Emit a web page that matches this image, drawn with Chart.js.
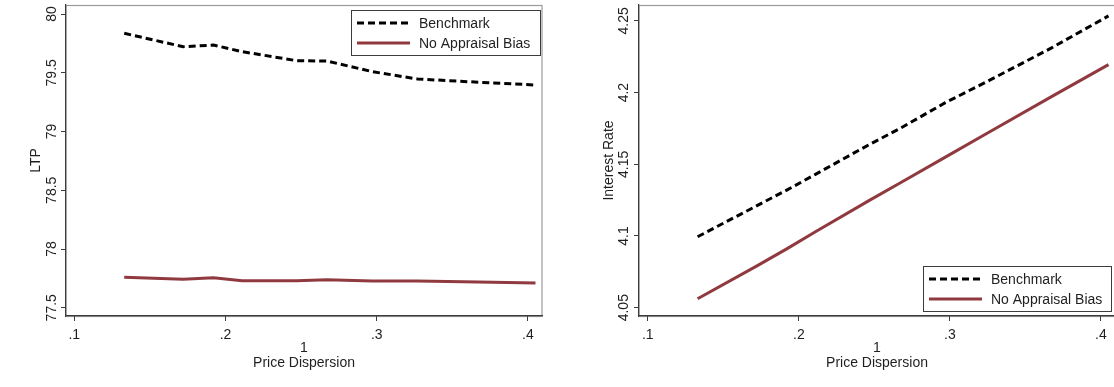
<!DOCTYPE html>
<html>
<head>
<meta charset="utf-8">
<title>LTP and Interest Rate by Price Dispersion</title>
<script src="https://cdn.jsdelivr.net/npm/chart.js@4"></script>
<style>
  html, body { margin: 0; padding: 0; background: #fff; overflow: hidden; }
  #wrap { position: relative; width: 1114px; height: 387px; }
  canvas { position: absolute; top: 0; }
  #ltpChart { left: 0; }
  #rateChart { left: 560px; }
</style>
</head>
<body>
<div id="wrap">
  <canvas id="ltpChart" width="560" height="387"></canvas>
  <canvas id="rateChart" width="560" height="387"></canvas>
</div>
<script>
// Price dispersion grid shared by both panels
const dispersion = [0.133, 0.172, 0.192, 0.211, 0.247, 0.267, 0.297, 0.327, 0.367, 0.405];

// LTP panel
const ltpBenchmark = [79.836, 79.722, 79.736, 79.68, 79.603, 79.60, 79.51, 79.447, 79.42, 79.396];
const ltpNoBias = [77.759, 77.742, 77.755, 77.73, 77.73, 77.738, 77.727, 77.727, 77.719, 77.71];

// Interest rate panel
const rateBenchmark = [4.0995, 4.121, 4.132, 4.143, 4.164, 4.175, 4.193, 4.209, 4.231, 4.2535];
const rateNoBias = [4.0562, 4.079, 4.091, 4.103, 4.125, 4.137, 4.155, 4.173, 4.197, 4.2195];

const xTicks = [0.1, 0.2, 0.3, 0.4];
const ltpTicks = [77.5, 78, 78.5, 79, 79.5, 80];
const rateTicks = [4.05, 4.1, 4.15, 4.2, 4.25];
const seriesNames = ['Benchmark', 'No Appraisal Bias'];

const FONT = '"Liberation Sans", Arial, sans-serif';
const TEXT = '#1f1f1f';
const AXIS = '#3c3c3c';
const MAROON = '#903a40';

// Light outline around the plot region, axes are drawn over it
const framePlugin = {
  id: 'frame',
  beforeDraw(chart) {
    const { ctx, chartArea: a } = chart;
    ctx.save();
    ctx.strokeStyle = '#9a9a9a';
    ctx.lineWidth = 1.2;
    ctx.strokeRect(a.left, a.top + 0.5, a.right - a.left, a.bottom - a.top);
    ctx.restore();
  }
};

// Boxed legend placed inside the plot region
const boxLegend = {
  id: 'boxLegend',
  afterDatasetsDraw(chart, args, opts) {
    const { ctx, chartArea: a } = chart;
    const x = a.right - opts.right - opts.width;
    const y = opts.corner === 'top' ? a.top + opts.offset : a.bottom - opts.offset - opts.height;
    ctx.save();
    ctx.fillStyle = '#fff';
    ctx.fillRect(x, y, opts.width, opts.height);
    ctx.strokeStyle = AXIS;
    ctx.lineWidth = 1;
    ctx.strokeRect(x + 0.5, y + 0.5, opts.width, opts.height);
    ctx.font = '14px ' + FONT;
    ctx.textBaseline = 'middle';
    chart.data.datasets.forEach((ds, i) => {
      const rowY = y + 13 + i * 20;
      ctx.beginPath();
      ctx.setLineDash(ds.borderDash || []);
      ctx.strokeStyle = ds.borderColor;
      ctx.lineWidth = ds.borderWidth;
      ctx.moveTo(x + 6, rowY);
      ctx.lineTo(x + 59, rowY);
      ctx.stroke();
      ctx.setLineDash([]);
      ctx.fillStyle = TEXT;
      ctx.fillText(ds.label, x + 68, rowY + 1);
    });
    ctx.restore();
  }
};

function datasets(bench, noBias) {
  return [{
    label: seriesNames[0],
    data: dispersion.map((d, i) => ({ x: d, y: bench[i] })),
    borderColor: '#000',
    borderWidth: 3,
    borderDash: [7, 4],
    pointRadius: 0,
    tension: 0
  }, {
    label: seriesNames[1],
    data: dispersion.map((d, i) => ({ x: d, y: noBias[i] })),
    borderColor: MAROON,
    borderWidth: 3,
    pointRadius: 0,
    tension: 0
  }];
}

function panelOptions(p) {
  return {
    responsive: false,
    animation: false,
    layout: { autoPadding: false, padding: { top: 5, right: p.padRight, bottom: 0, left: 0 } },
    plugins: {
      legend: { display: false },
      tooltip: { enabled: false },
      boxLegend: p.legend
    },
    scales: {
      x: {
        type: 'linear',
        min: p.xMin,
        max: p.xMax,
        afterBuildTicks: s => { s.ticks = xTicks.map(v => ({ value: v })); },
        afterFit: s => { s.height = 71; },
        grid: { drawOnChartArea: false, drawTicks: true, tickLength: 5, color: AXIS },
        border: { color: AXIS, width: 1.2 },
        ticks: {
          color: TEXT,
          font: { family: FONT, size: 14 },
          padding: 6,
          maxRotation: 0,
          callback: v => String(v).replace(/^0/, '')
        },
        title: {
          display: true,
          text: ['1', 'Price Dispersion'],
          color: TEXT,
          font: { family: FONT, size: 14, lineHeight: 1.1 },
          padding: { top: 0, bottom: 16 }
        }
      },
      y: {
        min: p.yMin,
        max: p.yMax,
        afterBuildTicks: s => { s.ticks = p.yTicks.map(v => ({ value: v })); },
        afterFit: s => { s.width = p.yWidth; },
        grid: { drawOnChartArea: false, drawTicks: true, tickLength: 5, color: AXIS },
        border: { color: AXIS, width: 1.2 },
        ticks: {
          color: TEXT,
          font: { family: FONT, size: 14 },
          padding: p.yLabelPad,
          minRotation: 90,
          maxRotation: 90,
          crossAlign: 'center',
          callback: v => String(v)
        },
        title: {
          display: true,
          text: p.yTitle,
          color: TEXT,
          font: { family: FONT, size: 14, lineHeight: 1.1 },
          padding: { top: p.yTitlePad, bottom: 0 }
        }
      }
    }
  };
}

new Chart(document.getElementById('ltpChart'), {
  type: 'line',
  data: { datasets: datasets(ltpBenchmark, ltpNoBias) },
  options: panelOptions({
    padRight: 18, xMin: 0.0945, xMax: 0.4093,
    yMin: 77.43, yMax: 80.077, yTicks: ltpTicks, yWidth: 66, yLabelPad: -5,
    yTitle: 'LTP', yTitlePad: 28,
    legend: { corner: 'top', right: 2, offset: 5, width: 189, height: 45 }
  }),
  plugins: [framePlugin, boxLegend]
});

new Chart(document.getElementById('rateChart'), {
  type: 'line',
  data: { datasets: datasets(rateBenchmark, rateNoBias) },
  options: panelOptions({
    padRight: 5, xMin: 0.0942, xMax: 0.4093,
    yMin: 4.0442, yMax: 4.2611, yTicks: rateTicks, yWidth: 79, yLabelPad: -4,
    yTitle: 'Interest Rate', yTitlePad: 41,
    legend: { corner: 'bottom', right: 4, offset: 5, width: 188, height: 45 }
  }),
  plugins: [framePlugin, boxLegend]
});
</script>
</body>
</html>
